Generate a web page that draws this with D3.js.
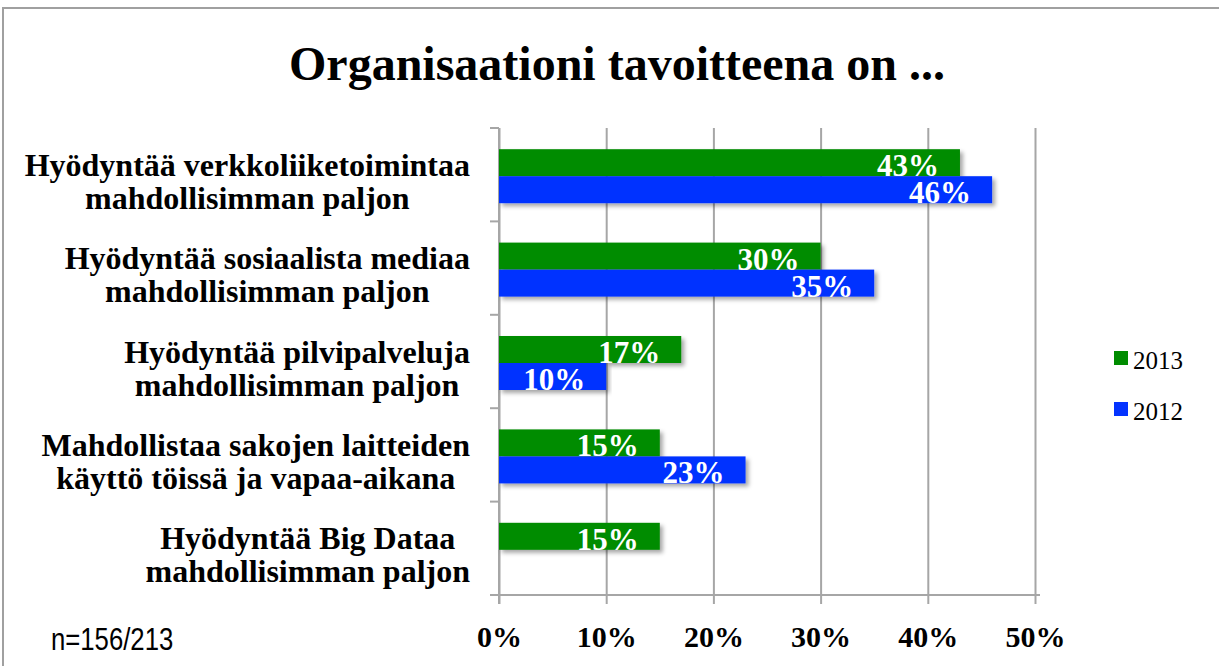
<!DOCTYPE html>
<html>
<head>
<meta charset="utf-8">
<script src="https://cdn.jsdelivr.net/npm/d3@7"></script>
<style>
  body { margin: 0; background: #fff; }
  svg { display: block; }
</style>
</head>
<body>
<svg id="chart"></svg>
<script>
const categories = [
  "Hyödyntää verkkoliiketoimintaa\nmahdollisimman paljon",
  "Hyödyntää sosiaalista mediaa\nmahdollisimman paljon",
  "Hyödyntää pilvipalveluja\nmahdollisimman paljon",
  "Mahdollistaa sakojen laitteiden\nkäyttö töissä ja vapaa-aikana",
  "Hyödyntää Big Dataa \nmahdollisimman paljon"
];
const seriesNames = ["2013", "2012"];
const values2013 = [43, 30, 17, 15, 15];
const values2012 = [46, 35, 10, 23, null];
const xTicks = [0, 10, 20, 30, 40, 50];

const colors = { "2013": "#008c00", "2012": "#0433ff" };

const width = 1219, height = 666;
const plot = { left: 499, right: 1035, top: 128, bottom: 595 };
const barH = 27;
const serif = "'Liberation Serif', 'Times New Roman', serif";

const svg = d3.select("#chart").attr("width", width).attr("height", height);

// drop shadow for the bars
const defs = svg.append("defs");
defs.append("filter").attr("id", "shadow")
  .attr("x", "-5%").attr("y", "-30%").attr("width", "110%").attr("height", "170%")
  .append("feDropShadow")
  .attr("dx", 3).attr("dy", 3).attr("stdDeviation", 2)
  .attr("flood-color", "#000").attr("flood-opacity", 0.35);

// outer frame
svg.append("rect")
  .attr("x", 3).attr("y", 8).attr("width", 1240).attr("height", 700)
  .attr("fill", "none").attr("stroke", "#a0a0a0").attr("stroke-width", 2);

// title
svg.append("text")
  .attr("x", 617).attr("y", 80)
  .attr("text-anchor", "middle")
  .style("font-family", serif).style("font-weight", "bold").style("font-size", "48px")
  .text("Organisaationi tavoitteena on ...");

const x = d3.scaleLinear().domain([0, 50]).range([plot.left, plot.right]);
const y = d3.scaleBand().domain(categories).range([plot.top, plot.bottom]).padding(0);
const ySub = d3.scaleBand().domain(seriesNames).range([0, barH * 2]);

// gridlines
const grid = svg.append("g")
  .attr("transform", `translate(0,${plot.bottom})`)
  .call(d3.axisTop(x).tickValues(xTicks).tickSize(plot.bottom - plot.top).tickFormat(""));
grid.select(".domain").remove();
grid.selectAll("line").attr("stroke", "#a6a6a6").attr("stroke-width", 2);

// x axis with labels
const xAxis = svg.append("g")
  .attr("transform", `translate(0,${plot.bottom})`)
  .call(d3.axisBottom(x).tickValues(xTicks).tickSize(9).tickPadding(22)
    .tickFormat(d => d + "%"));
xAxis.select(".domain").remove();
xAxis.selectAll("line").attr("stroke", "#a6a6a6").attr("stroke-width", 2);
xAxis.selectAll("text")
  .attr("fill", "#000")
  .style("font-family", serif).style("font-weight", "bold").style("font-size", "30px");

svg.append("line")
  .attr("x1", plot.left - 9).attr("x2", plot.right + 5)
  .attr("y1", plot.bottom).attr("y2", plot.bottom)
  .attr("stroke", "#a6a6a6").attr("stroke-width", 2);

// y axis line and boundary ticks
svg.append("line")
  .attr("x1", plot.left).attr("x2", plot.left)
  .attr("y1", plot.top).attr("y2", plot.bottom + 9)
  .attr("stroke", "#a6a6a6").attr("stroke-width", 2);
const bounds = categories.map(c => y(c)).concat([y(categories[categories.length - 1]) + y.bandwidth()]);
svg.append("g").selectAll("line").data(bounds).join("line")
  .attr("x1", plot.left - 9).attr("x2", plot.left)
  .attr("y1", d => d).attr("y2", d => d)
  .attr("stroke", "#a6a6a6").attr("stroke-width", 2);

// bars
const rows = [];
categories.forEach((c, i) => {
  if (values2013[i] != null) rows.push({ cat: c, series: "2013", value: values2013[i] });
  if (values2012[i] != null) rows.push({ cat: c, series: "2012", value: values2012[i] });
});
const barY = d => y(d.cat) + (y.bandwidth() - barH * 2) / 2 + 1.5 + ySub(d.series);

svg.append("g").selectAll("rect").data(rows).join("rect")
  .attr("x", x(0))
  .attr("y", barY)
  .attr("width", d => x(d.value) - x(0))
  .attr("height", barH)
  .attr("fill", d => colors[d.series])
  .attr("filter", "url(#shadow)");

svg.append("g").selectAll("text").data(rows).join("text")
  .attr("x", d => x(d.value) - 21)
  .attr("y", d => barY(d) + barH)
  .attr("text-anchor", "end")
  .attr("fill", "#fff")
  .style("font-family", serif).style("font-weight", "bold").style("font-size", "31px")
  .text(d => d.value + "%");

// category labels: each block centred, block right edge at 470
categories.forEach(c => {
  const lines = c.split("\n");
  const g = svg.append("g");
  const cy = y(c) + y.bandwidth() / 2;
  const texts = lines.map((l, j) => g.append("text")
    .attr("y", cy + 1 + j * 33)
    .attr("text-anchor", "middle")
    .style("font-family", serif).style("font-weight", "bold").style("font-size", "32px")
    .text(l));
  const maxW = d3.max(texts, t => t.node().getComputedTextLength());
  texts.forEach(t => t.attr("x", 470 - maxW / 2));
});

// legend
const legend = svg.append("g").selectAll("g").data(seriesNames).join("g")
  .attr("transform", (d, i) => `translate(1114,${351 + i * 51})`);
legend.append("rect").attr("width", 14).attr("height", 14).attr("fill", d => colors[d]);
legend.append("text")
  .attr("x", 19).attr("y", 18)
  .style("font-family", serif).style("font-size", "25px")
  .text(d => d);

// sample size note (condensed like the original)
svg.append("text")
  .attr("transform", "translate(51,650) scale(0.83,1)")
  .style("font-family", "'Liberation Sans', Arial, sans-serif")
  .style("font-size", "31px")
  .text("n=156/213");
</script>
</body>
</html>
